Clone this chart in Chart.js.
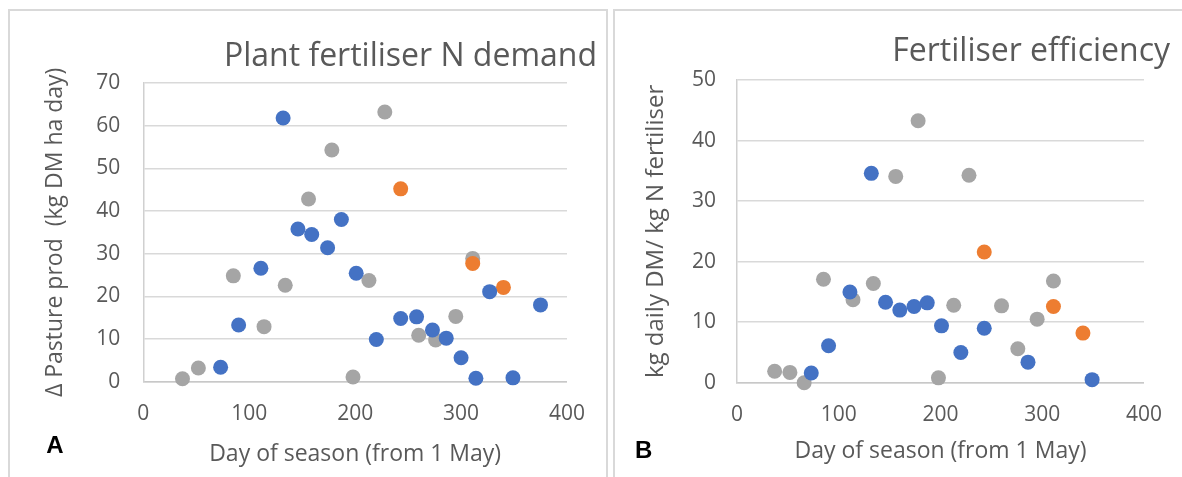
<!DOCTYPE html>
<html>
<head>
<meta charset="utf-8">
<script src="https://cdn.jsdelivr.net/npm/chart.js@4.4.1/dist/chart.umd.min.js"></script>
<style>
  html, body { margin: 0; padding: 0; background: #fff; width: 1182px; height: 477px; overflow: hidden; }
  .panel { position: absolute; box-sizing: border-box; border: 2px solid #D9D9D9; }
  #panelA { left: 8px; top: 9px; width: 600px; height: 500px; }
  #panelB { left: 613px; top: 9px; width: 600px; height: 500px; }
  canvas { position: absolute; }
  #chartA { left: 10px; top: 12px; }
  #chartB { left: 616px; top: 12px; }
</style>
</head>
<body>
<div class="panel" id="panelA"></div>
<div class="panel" id="panelB"></div>
<canvas id="chartA" width="595" height="465"></canvas>
<canvas id="chartB" width="566" height="465"></canvas>

<script>
// ---- Panel A: pasture production response vs day of season ----
const blueDaysA  = [73, 90, 111, 132, 146, 159, 174, 187, 201, 220, 243, 258, 273, 286, 300, 314, 327, 349, 375];
const bluePastA  = [3.4, 13.3, 26.6, 61.8, 35.8, 34.5, 31.4, 38.0, 25.4, 9.9, 14.8, 15.2, 12.1, 10.2, 5.6, 0.8, 21.1, 0.9, 18.0];
const orangeDaysA = [243, 311, 340];
const orangePastA = [45.2, 27.7, 22.1];
const grayDaysA  = [37, 52, 85, 114, 134, 156, 178, 198, 213, 228, 260, 276, 295, 311];
const grayPastA  = [0.7, 3.2, 24.8, 12.9, 22.6, 42.8, 54.3, 1.1, 23.7, 63.2, 10.9, 9.8, 15.3, 28.9];

// ---- Panel B: fertiliser efficiency vs day of season ----
const blueDaysB  = [73, 90, 111, 132, 146, 160, 174, 187, 201, 220, 243, 286, 349];
const blueEffB   = [1.6, 6.1, 15.0, 34.6, 13.3, 12.0, 12.6, 13.2, 9.4, 5.0, 9.0, 3.4, 0.5];
const orangeDaysB = [243, 311, 340];
const orangeEffB  = [21.6, 12.6, 8.2];
const grayDaysB  = [37, 52, 66, 85, 114, 134, 156, 178, 198, 213, 228, 260, 276, 295, 311];
const grayEffB   = [1.9, 1.7, 0.0, 17.1, 13.7, 16.4, 34.1, 43.3, 0.8, 12.8, 34.3, 12.7, 5.6, 10.5, 16.8];

// axis ranges
const dayTicks = [0, 100, 200, 300, 400];
const yMaxA = 70;
const yMaxB = 50;

const BLUE = "#4472C4";
const ORANGE = "#ED7D31";
const GRAY = "#A5A5A5";
const TEXT = "#595959";

Chart.defaults.font.family = "'Open Sans', sans-serif";
Chart.defaults.color = TEXT;

function toPoints(xs, ys) {
  return xs.map((x, i) => ({ x, y: ys[i] }));
}

function series(xs, ys, color) {
  return {
    data: toPoints(xs, ys),
    backgroundColor: color,
    borderWidth: 0,
    pointRadius: 7.5,
    pointHoverRadius: 7.5,
    clip: false,
  };
}

// Bold panel letter in the lower-left corner
const panelLetter = {
  id: "panelLetter",
  afterDraw(chart, args, opts) {
    const ctx = chart.ctx;
    ctx.save();
    ctx.font = "bold 24px 'Liberation Sans', Arial, sans-serif";
    ctx.fillStyle = "#000";
    ctx.textAlign = "center";
    ctx.textBaseline = "alphabetic";
    ctx.fillText(opts.text, opts.x, opts.y);
    ctx.restore();
  },
};

function makeChart(id, o) {
  const ctx = document.getElementById(id);
  return new Chart(ctx, {
    type: "scatter",
    data: { datasets: o.datasets },
    plugins: [panelLetter],
    options: {
      responsive: false,
      animation: false,
      devicePixelRatio: 1,
      events: [],
      layout: { padding: { left: 0, right: o.padRight, top: 0, bottom: 0 } },
      plugins: {
        legend: { display: false },
        tooltip: { enabled: false },
        title: {
          display: true,
          text: o.title,
          align: "end",
          color: TEXT,
          font: { size: 32, weight: "normal" },
          padding: { top: o.titleTop, bottom: o.titleBottom },
        },
        panelLetter: o.letter,
      },
      scales: {
        x: {
          type: "linear",
          min: 0,
          max: 400,
          afterBuildTicks: s => { s.ticks = dayTicks.map(v => ({ value: v })); },
          grid: { display: false, drawTicks: false },
          border: { display: true, color: "#C8C8C8", width: 1.5 },
          ticks: { padding: 20, color: TEXT, font: { size: 21 } },
          title: {
            display: true,
            text: "Day of season (from 1 May)",
            color: TEXT,
            font: { size: 23 },
            padding: { top: 0, bottom: o.xTitleBottom },
          },
          afterFit: s => { s.height = o.xHeight; },
        },
        y: {
          type: "linear",
          min: 0,
          max: o.yMax,
          ticks: { stepSize: 10, padding: o.yTickPad, color: TEXT, font: { size: 21 } },
          grid: { color: "#D9D9D9", lineWidth: 1.5, drawTicks: false },
          border: { display: true, color: "#D0D0D0", width: 1.5 },
          title: {
            display: true,
            text: o.yTitle,
            color: TEXT,
            font: { size: o.yTitleSize },
            padding: { top: o.yTitleTop, bottom: 0 },
          },
          afterFit: s => { s.width = o.yWidth; },
        },
        // empty right-hand axis that keeps the plot clear of the title's end
        yR: {
          type: "linear",
          position: "right",
          display: true,
          grid: { display: false, drawTicks: false },
          border: { display: false },
          ticks: { display: false },
          afterFit: s => { s.width = o.rightWidth; },
        },
      },
    },
  });
}

makeChart("chartA", {
  title: "Plant fertiliser N demand",
  yTitle: "Δ Pasture prod  (kg DM ha day)",
  yMax: yMaxA,
  datasets: [
    series(blueDaysA, bluePastA, BLUE),
    series(orangeDaysA, orangePastA, ORANGE),
    series(grayDaysA, grayPastA, GRAY),
  ],
  padRight: 8,
  rightWidth: 23.7,
  titleTop: 26,
  titleBottom: 6.6,
  yWidth: 133.3,
  yTickPad: 23,
  yTitleSize: 23,
  yTitleTop: 32,
  xHeight: 95.3,
  xTitleBottom: 9,
  letter: { text: "A", x: 45, y: 441 },
});

makeChart("chartB", {
  title: "Fertiliser efficiency",
  yTitle: "kg daily DM/ kg N fertiliser",
  yMax: yMaxB,
  datasets: [
    series(blueDaysB, blueEffB, BLUE),
    series(orangeDaysB, orangeEffB, ORANGE),
    series(grayDaysB, grayEffB, GRAY),
  ],
  padRight: 12,
  rightWidth: 22,
  titleTop: 20.2,
  titleBottom: 9.6,
  yWidth: 121,
  yTickPad: 21,
  yTitleSize: 24,
  yTitleTop: 26,
  xHeight: 94.3,
  xTitleBottom: 12,
  letter: { text: "B", x: 27.7, y: 446 },
});
</script>
</body>
</html>
